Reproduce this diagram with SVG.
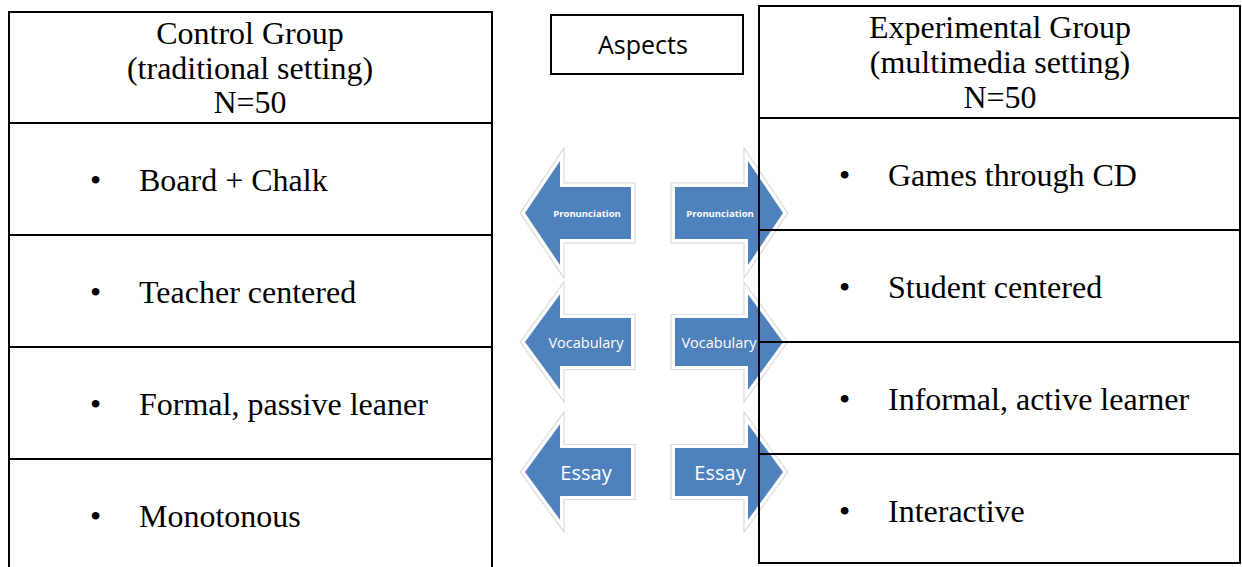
<svg xmlns="http://www.w3.org/2000/svg" xmlns:xlink="http://www.w3.org/1999/xlink" width="1242" height="567" viewBox="0 0 1242 567">
<style>
.bg{fill:#ffffff}
.cell{fill:none;stroke:#000;stroke-width:2}
.serif{font-family:"Liberation Serif","Times New Roman",serif;font-size:32px;fill:#000}
.hd{text-anchor:middle}
.sans{font-family:"Open Sans","Liberation Sans",sans-serif}
.glowo{fill:#fff;stroke:#d4d4d4;stroke-width:9;stroke-linejoin:miter}
.glowi{fill:#fff;stroke:#fff;stroke-width:7;stroke-linejoin:miter}
.blue{fill:#4f81bd;stroke:none}
.al{font-family:"Open Sans","Liberation Sans",sans-serif;fill:#fff;text-anchor:middle;dominant-baseline:central}
</style>
<defs>
<path id="aL" d="M0,0 L35,-52 L35,-26 L106,-26 L106,26 L35,26 L35,52 Z"/>
<path id="aR" d="M0,0 L-35,-52 L-35,-26 L-108,-26 L-108,26 L-35,26 L-35,52 Z"/>
</defs>
<rect class="bg" x="0" y="0" width="1242" height="567"/>

<g id="arrow-pron-left" transform="translate(525,213)">
<use xlink:href="#aL" class="glowo"/><use xlink:href="#aL" class="glowi"/><use xlink:href="#aL" class="blue"/>
<text class="al" x="62" y="0" font-size="9.5" font-weight="bold">Pronunciation</text>
</g>
<g id="arrow-pron-right" transform="translate(783,213)">
<use xlink:href="#aR" class="glowo"/><use xlink:href="#aR" class="glowi"/><use xlink:href="#aR" class="blue"/>
<text class="al" x="-63" y="0" font-size="9.5" font-weight="bold">Pronunciation</text>
</g>
<g id="arrow-voc-left" transform="translate(525,342) scale(1,0.92)">
<use xlink:href="#aL" class="glowo"/><use xlink:href="#aL" class="glowi"/><use xlink:href="#aL" class="blue"/>
</g>
<text class="al" x="586" y="342" font-size="14.5">Vocabulary</text>
<g id="arrow-voc-right" transform="translate(783,342) scale(1,0.92)">
<use xlink:href="#aR" class="glowo"/><use xlink:href="#aR" class="glowi"/><use xlink:href="#aR" class="blue"/>
</g>
<text class="al" x="719" y="342" font-size="14.5">Vocabulary</text>
<g id="arrow-essay-left" transform="translate(525,472) scale(1,0.92)">
<use xlink:href="#aL" class="glowo"/><use xlink:href="#aL" class="glowi"/><use xlink:href="#aL" class="blue"/>
</g>
<text class="al" x="586" y="472" font-size="20">Essay</text>
<g id="arrow-essay-right" transform="translate(783,472) scale(1,0.92)">
<use xlink:href="#aR" class="glowo"/><use xlink:href="#aR" class="glowi"/><use xlink:href="#aR" class="blue"/>
</g>
<text class="al" x="720" y="472" font-size="20">Essay</text>

<g id="aspects">
<rect class="cell" x="551" y="15" width="192" height="59"/>
<text class="sans" x="643" y="54" font-size="25" text-anchor="middle" fill="#000">Aspects</text>
</g>

<g id="control-group">
<rect class="cell" x="9" y="12" width="483" height="111"/>
<text class="serif hd" x="250" y="44">Control Group</text>
<text class="serif hd" x="250" y="79">(traditional setting)</text>
<text class="serif hd" x="250" y="113">N=50</text>
</g>
<g id="control-row1">
<rect class="cell" x="9" y="123" width="483" height="112"/>
<text class="serif" x="90" y="191">•</text><text class="serif" x="139" y="191">Board + Chalk</text>
</g>
<g id="control-row2">
<rect class="cell" x="9" y="235" width="483" height="112"/>
<text class="serif" x="90" y="303">•</text><text class="serif" x="139" y="303">Teacher centered</text>
</g>
<g id="control-row3">
<rect class="cell" x="9" y="347" width="483" height="112"/>
<text class="serif" x="90" y="415">•</text><text class="serif" x="139" y="415">Formal, passive leaner</text>
</g>
<g id="control-row4">
<path class="cell" d="M9,568 L9,459 L492,459 L492,568"/>
<text class="serif" x="90" y="527">•</text><text class="serif" x="139" y="527">Monotonous</text>
</g>

<g id="experimental-group">
<rect class="cell" x="759" y="6" width="481" height="112"/>
<text class="serif hd" x="1000" y="38">Experimental Group</text>
<text class="serif hd" x="1000" y="73">(multimedia setting)</text>
<text class="serif hd" x="1000" y="108">N=50</text>
</g>
<g id="experimental-row1">
<rect class="cell" x="759" y="118" width="481" height="112"/>
<text class="serif" x="839" y="186">•</text><text class="serif" x="888" y="186">Games through CD</text>
</g>
<g id="experimental-row2">
<rect class="cell" x="759" y="230" width="481" height="112"/>
<text class="serif" x="839" y="298">•</text><text class="serif" x="888" y="298">Student centered</text>
</g>
<g id="experimental-row3">
<rect class="cell" x="759" y="342" width="481" height="112"/>
<text class="serif" x="839" y="410">•</text><text class="serif" x="888" y="410">Informal, active learner</text>
</g>
<g id="experimental-row4">
<rect class="cell" x="759" y="454" width="481" height="109"/>
<text class="serif" x="839" y="522">•</text><text class="serif" x="888" y="522">Interactive</text>
</g>
<g id="connectors"/>
</svg>
